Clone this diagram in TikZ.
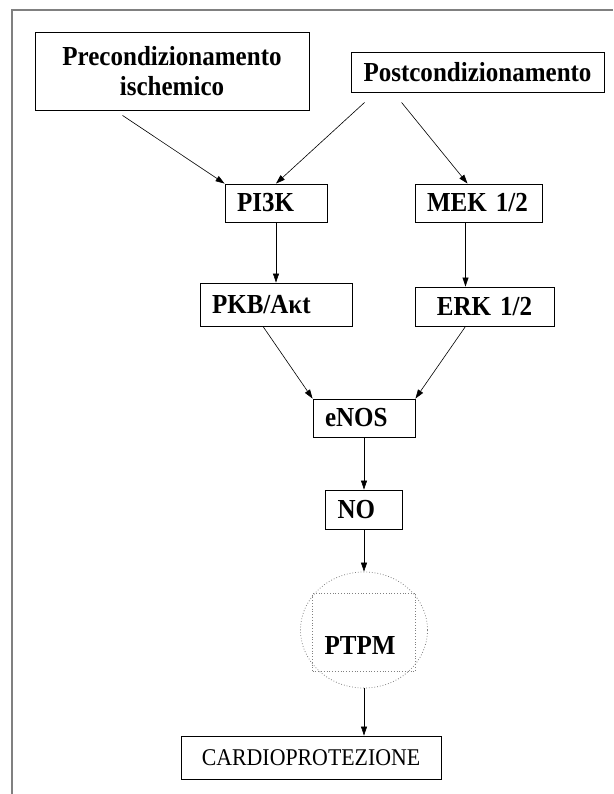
\documentclass[tikz,border=0pt]{standalone}
\usepackage{fontspec}
\setmainfont{Liberation Serif}[FakeStretch=0.91]
\usetikzlibrary{arrows.meta, positioning, calc, shapes.geometric}

\begin{document}
\begin{tikzpicture}[x=1pt,y=-1pt,>={Triangle[length=9pt,width=6pt]},
  blk/.style={draw,line width=0.9pt,inner xsep=12pt,inner ysep=0pt,align=left,font=\fontsize{27.5}{30}\selectfont\bfseries},
  dots/.style={draw=gray,dotted,line width=0.8pt,inner sep=0pt},
  arr/.style={->,line width=0.6pt}]
\useasboundingbox (0,0) rectangle (613,794);
\draw[gray,line width=1.5pt] (12,794) -- (12,10) -- (613,10);
\node[blk,align=center,minimum width=274pt,minimum height=78pt] (pre) at (172,71) {Precondizionamento\\ischemico};
\node[blk,align=center,minimum width=253pt,minimum height=40pt] (post) at (477.5,72) {Postcondizionamento};
\node[blk,text width=78pt,minimum height=38pt] (pi3k) at (276,203) {PI3K};
\node[blk,text width=103pt,minimum height=38pt] (mek) at (478.5,203) {MEK 1/2};
\node[blk,text width=128pt,minimum height=43pt] (pkb) at (276,304.5) {PKB/Aκt};
\node[blk,align=center,text width=115pt,minimum height=39pt] (erk) at (484.5,306.5) {ERK 1/2};
\node[blk,text width=78pt,minimum height=38pt] (enos) at (364,418) {eNOS};
\node[blk,text width=53pt,minimum height=39pt] (no) at (364,509.5) {NO};
\node[dots,ellipse,minimum width=127pt,minimum height=116pt] (ptpm) at (364,630) {};
\node[dots,minimum width=103pt,minimum height=78pt] (ptpmbox) at (364,632) {};
\node[font=\fontsize{27.5}{30}\selectfont\bfseries] (ptpmlbl) at (360,645) {PTPM};
\node[blk,align=center,minimum width=260pt,minimum height=43pt,font=\fontsize{24}{26}\selectfont] (cardio) at (311,757.5) {CARDIOPROTEZIONE};
\draw[arr] ($(pre.south west)+(88,5)$) -- (pi3k.north west);
\draw[arr] ($(post.south west)+(14,10)$) -- (pi3k.north);
\draw[arr] ($(post.south west)+(51,10)$) -- ($(mek.north)+(-11,0)$);
\draw[arr] (pi3k) -- (pkb);
\draw[arr] ($(mek.south)+(-13,0)$) coordinate (m1) -- (m1 |- erk.north);
\draw[arr] ($(pkb.south)+(-13,0)$) -- (enos.north west);
\draw[arr] ($(erk.south)+(-19,0)$) -- (enos.north east);
\draw[arr] (enos) -- (no);
\draw[arr] (no) -- (ptpm);
\draw[arr] (ptpm.south) -- (ptpm.south |- cardio.north);
\end{tikzpicture}
\end{document}
